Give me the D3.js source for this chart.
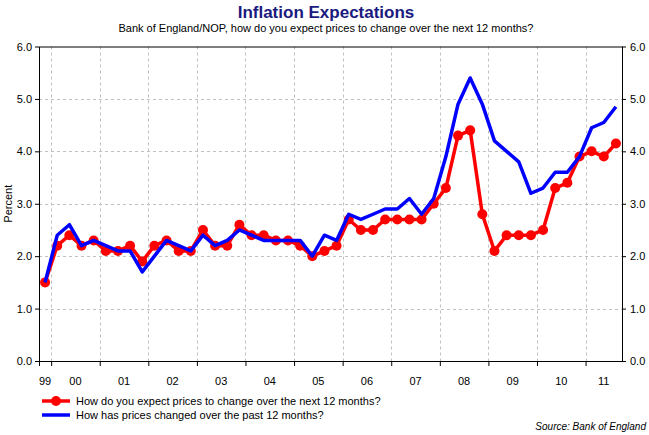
<!DOCTYPE html>
<html><head><meta charset="utf-8">
<script src="https://cdn.jsdelivr.net/npm/d3@7"></script>
<style>
body{margin:0;background:#fff;}
svg{display:block;font-family:"Liberation Sans",Arial,sans-serif;}
</style>
</head><body>
<svg id="c" width="649" height="435"></svg>
<script>
// ---- data ----
const quarters = [
  "1999Q4",
  "2000Q1","2000Q2","2000Q3","2000Q4",
  "2001Q1","2001Q2","2001Q3","2001Q4",
  "2002Q1","2002Q2","2002Q3","2002Q4",
  "2003Q1","2003Q2","2003Q3","2003Q4",
  "2004Q1","2004Q2","2004Q3","2004Q4",
  "2005Q1","2005Q2","2005Q3","2005Q4",
  "2006Q1","2006Q2","2006Q3","2006Q4",
  "2007Q1","2007Q2","2007Q3","2007Q4",
  "2008Q1","2008Q2","2008Q3","2008Q4",
  "2009Q1","2009Q2","2009Q3","2009Q4",
  "2010Q1","2010Q2","2010Q3","2010Q4",
  "2011Q1","2011Q2","2011Q3"
];
const expectedNext12 = [
  1.5,
  2.2,2.4,2.2,2.3,
  2.1,2.1,2.2,1.9,
  2.2,2.3,2.1,2.1,
  2.5,2.2,2.2,2.6,
  2.4,2.4,2.3,2.3,
  2.2,2.0,2.1,2.2,
  2.7,2.5,2.5,2.7,
  2.7,2.7,2.7,3.0,
  3.3,4.3,4.4,2.8,
  2.1,2.4,2.4,2.4,
  2.5,3.3,3.4,3.9,
  4.0,3.9,4.15
];
const pastChange12 = [
  1.5,
  2.4,2.6,2.2,2.3,
  2.2,2.1,2.1,1.7,
  2.0,2.3,2.2,2.1,
  2.4,2.2,2.3,2.5,
  2.4,2.3,2.3,2.3,
  2.3,2.0,2.4,2.3,
  2.8,2.7,2.8,2.9,
  2.9,3.1,2.8,3.1,
  3.9,4.9,5.4,4.9,
  4.2,4.0,3.8,3.2,
  3.3,3.6,3.6,3.9,
  4.45,4.55,4.85
];
const yTickValues = [0,1,2,3,4,5,6];
const yearTickLabels = ["99","00","01","02","03","04","05","06","07","08","09","10","11"];
const yearsOfLabels = [1999,2000,2001,2002,2003,2004,2005,2006,2007,2008,2009,2010,2011];
const titleText = "Inflation Expectations";
const subtitleText = "Bank of England/NOP, how do you expect prices to change over the next 12 months?";
const seriesNames = ["How do you expect prices to change over the next 12 months?",
                     "How has prices changed over the past 12 months?"];
const sourceText = "Source: Bank of England";

// ---- layout ----
const svg = d3.select("#c");
const L = 39, R = 622, T = 46.5, B = 361;
const domainStart = 1999.75, domainEnd = 2011.75;

const qToYear = q => +q.slice(0,4) + (+q.slice(5) - 0.5) / 4;

const x = d3.scaleLinear().domain([domainStart, domainEnd]).range([L, R]);
const y = d3.scaleLinear().domain([0, 6]).range([B, T]);

// gridlines
const gridYears = d3.range(2000, 2012);
svg.append("g").selectAll("line.v").data(gridYears).join("line")
  .attr("x1", d => Math.round(x(d)) + 0.5).attr("x2", d => Math.round(x(d)) + 0.5)
  .attr("y1", T).attr("y2", B)
  .attr("stroke", "#c0c0c0").attr("stroke-dasharray", "3,3");
svg.append("g").selectAll("line.h").data(yTickValues.filter(v => v > 0 && v < 6)).join("line")
  .attr("x1", L).attr("x2", R)
  .attr("y1", d => Math.round(y(d)) + 0.5).attr("y2", d => Math.round(y(d)) + 0.5)
  .attr("stroke", "#c0c0c0").attr("stroke-dasharray", "3,3");

// axes
const fmt = d3.format(".1f");
const gL = svg.append("g").attr("transform", `translate(${L},0)`)
  .call(d3.axisLeft(y).tickValues(yTickValues).tickFormat(fmt).tickSize(4).tickPadding(3));
const gR = svg.append("g").attr("transform", `translate(${R},0)`)
  .call(d3.axisRight(y).tickValues(yTickValues).tickFormat(fmt).tickSize(4).tickPadding(4));
[gL, gR].forEach(g => {
  g.select(".domain").remove();
  g.selectAll("text").attr("font-size", 11).attr("fill", "#000")
    .attr("font-family", '"Liberation Sans",Arial,sans-serif');
  g.selectAll("line").attr("stroke", "#000");
});

const gX = svg.append("g").attr("transform", `translate(0,${B})`)
  .call(d3.axisBottom(x).tickValues(gridYears).tickFormat("").tickSize(5));
gX.select(".domain").remove();
gX.selectAll("line").attr("stroke", "#000");

// frame
svg.append("rect").attr("x", L + 0.5).attr("y", T + 0.5)
  .attr("width", R - L).attr("height", B - T)
  .attr("fill", "none").attr("stroke", "#000").attr("stroke-width", 1);
svg.append("line").attr("x1", L + 0.5).attr("x2", L + 0.5).attr("y1", B).attr("y2", B + 5)
  .attr("stroke", "#000");

// year labels centred in each year segment
svg.append("g").selectAll("text").data(yearsOfLabels).join("text")
  .attr("x", (d) => (x(Math.max(d, domainStart)) + x(Math.min(d + 1, domainEnd))) / 2)
  .attr("y", B + 24)
  .attr("text-anchor", "middle").attr("font-size", 11).attr("fill", "#000")
  .text((d, i) => yearTickLabels[i]);

// y label
svg.append("text").attr("transform", `translate(12,${(T + B) / 2}) rotate(-90)`)
  .attr("text-anchor", "middle").attr("font-size", 11).attr("fill", "#000")
  .text("Percent");

// series
const line = d3.line().x(d => x(d[0])).y(d => y(d[1]));
const bluePts = quarters.map((q, i) => [qToYear(q), pastChange12[i]]);
const redPts = quarters.map((q, i) => [qToYear(q), expectedNext12[i]]);

svg.append("path").datum(redPts).attr("d", line)
  .attr("fill", "none").attr("stroke", "#ff0000").attr("stroke-width", 3.5)
  .attr("stroke-linejoin", "round");
svg.append("g").selectAll("circle").data(redPts).join("circle")
  .attr("cx", d => x(d[0])).attr("cy", d => y(d[1])).attr("r", 5)
  .attr("fill", "#ff0000");
svg.append("path").datum(bluePts).attr("d", line)
  .attr("fill", "none").attr("stroke", "#0000ff").attr("stroke-width", 3.5)
  .attr("stroke-linejoin", "round");

// titles
svg.append("text").attr("x", 326).attr("y", 18).attr("text-anchor", "middle")
  .attr("font-size", 17).attr("font-weight", "bold").attr("fill", "#1a1a80")
  .text(titleText);
svg.append("text").attr("x", 326).attr("y", 32).attr("text-anchor", "middle")
  .attr("font-size", 11).attr("fill", "#000")
  .text(subtitleText);

// legend
const leg = svg.append("g");
const legY = [401, 415];
leg.append("line").attr("x1", 42).attr("x2", 70).attr("y1", legY[0]).attr("y2", legY[0])
  .attr("stroke", "#ff0000").attr("stroke-width", 3.5);
leg.append("circle").attr("cx", 56).attr("cy", legY[0]).attr("r", 5).attr("fill", "#ff0000");
leg.append("line").attr("x1", 42).attr("x2", 70).attr("y1", legY[1]).attr("y2", legY[1])
  .attr("stroke", "#0000ff").attr("stroke-width", 3.5);
leg.selectAll("text").data(seriesNames).join("text")
  .attr("x", 76).attr("y", (d, i) => legY[i] + 4)
  .attr("font-size", 11).attr("fill", "#000").text(d => d);

svg.append("text").attr("x", 646).attr("y", 430).attr("text-anchor", "end")
  .attr("font-size", 10).attr("font-style", "italic").attr("fill", "#000")
  .text(sourceText);
</script>
</body></html>
